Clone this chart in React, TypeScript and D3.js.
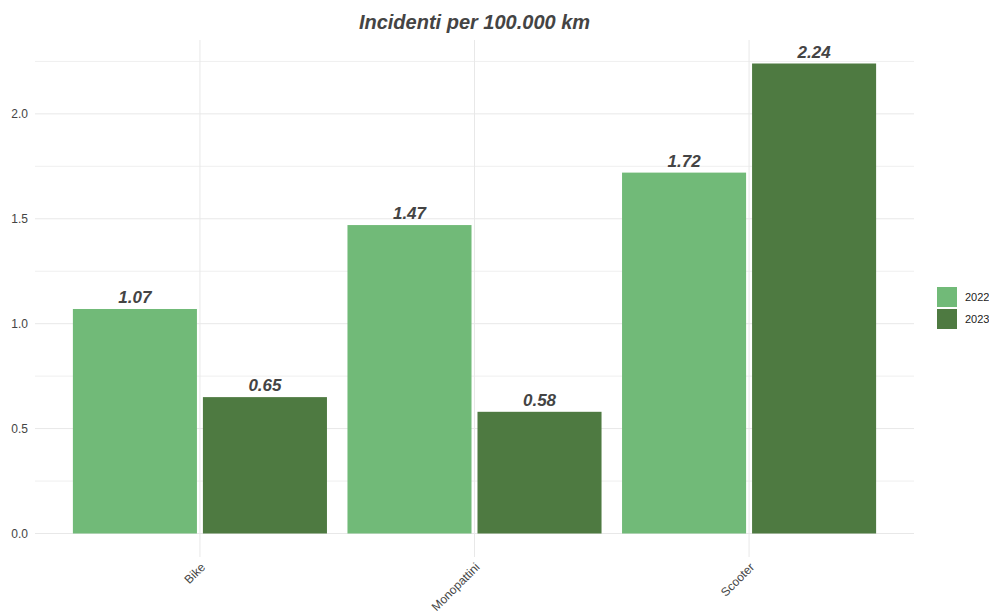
import React from "react";
import * as d3 from "d3";

const categories = ["Bike", "Monopattini", "Scooter"];
const years = ["2022", "2023"];
const values2022 = [1.07, 1.47, 1.72];
const values2023 = [0.65, 0.58, 2.24];
const yTicks = [0, 0.5, 1, 1.5, 2];
const yMinorTicks = [0.25, 0.75, 1.25, 1.75, 2.25];
const colors = ["#71ba78", "#4e7a41"];
const title = "Incidenti per 100.000 km";

const W = 989;
const H = 611;
const left = 35;
const right = 914;
const top = 40;
const bottom = 557;
const font = "'Liberation Sans', Arial, Helvetica, sans-serif";

export default function App() {
  const series = [values2022, values2023];
  const maxV = d3.max(series.flat()) as number;
  const pad = maxV * 0.05;
  const y = d3.scaleLinear().domain([-pad, maxV + pad]).range([bottom, top]);

  const x = d3
    .scaleBand<string>()
    .domain(categories)
    .range([left, right])
    .paddingInner(0.0747)
    .paddingOuter(0.138);
  const xInner = d3
    .scaleBand<string>()
    .domain(years)
    .range([0, x.bandwidth()])
    .paddingInner(0.046);

  const center = (c: string) => (x(c) as number) + x.bandwidth() / 2;

  return (
    <svg
      width={W}
      height={H}
      style={{ position: "absolute", left: 0, top: 0, background: "#fff" }}
      fontFamily={font}
    >
      {/* grid */}
      {yMinorTicks.map((t) => (
        <line key={"m" + t} x1={left} x2={right} y1={y(t)} y2={y(t)} stroke="#efefef" strokeWidth={1} />
      ))}
      {yTicks.map((t) => (
        <line key={"g" + t} x1={left} x2={right} y1={y(t)} y2={y(t)} stroke="#e8e8e8" strokeWidth={1} />
      ))}
      {categories.map((c) => (
        <line key={"v" + c} x1={center(c)} x2={center(c)} y1={top} y2={bottom} stroke="#e8e8e8" strokeWidth={1} />
      ))}

      {/* y axis labels */}
      {yTicks.map((t) => (
        <text key={"yl" + t} x={28} y={y(t)} dy="0.35em" textAnchor="end" fontSize={12} fill="#444">
          {d3.format(".1f")(t)}
        </text>
      ))}

      {/* bars and value labels */}
      {categories.map((c, i) =>
        years.map((yr, j) => {
          const v = series[j][i];
          const bx = (x(c) as number) + (xInner(yr) as number);
          const bw = xInner.bandwidth();
          return (
            <g key={c + yr}>
              <rect x={bx} y={y(v)} width={bw} height={y(0) - y(v)} fill={colors[j]} />
              <text
                x={bx + bw / 2}
                y={y(v) - 6}
                textAnchor="middle"
                fontSize={17}
                fontWeight="bold"
                fontStyle="italic"
                fill="#444"
              >
                {v.toFixed(2)}
              </text>
            </g>
          );
        })
      )}

      {/* x axis labels */}
      {categories.map((c) => (
        <text
          key={"xl" + c}
          transform={`translate(${center(c)},${bottom + 5}) rotate(-45)`}
          textAnchor="end"
          dy="0.7em"
          fontSize={12}
          fill="#444"
        >
          {c}
        </text>
      ))}

      {/* title */}
      <text
        x={(left + right) / 2}
        y={29}
        textAnchor="middle"
        fontSize={20}
        fontWeight="bold"
        fontStyle="italic"
        fill="#444"
      >
        {title}
      </text>

      {/* legend */}
      {years.map((yr, j) => (
        <g key={"lg" + yr} transform={`translate(937,${287 + j * 22})`}>
          <rect width={20} height={20} fill={colors[j]} />
          <text x={28} y={10} dy="0.35em" fontSize={11} fill="#222">
            {yr}
          </text>
        </g>
      ))}
    </svg>
  );
}
